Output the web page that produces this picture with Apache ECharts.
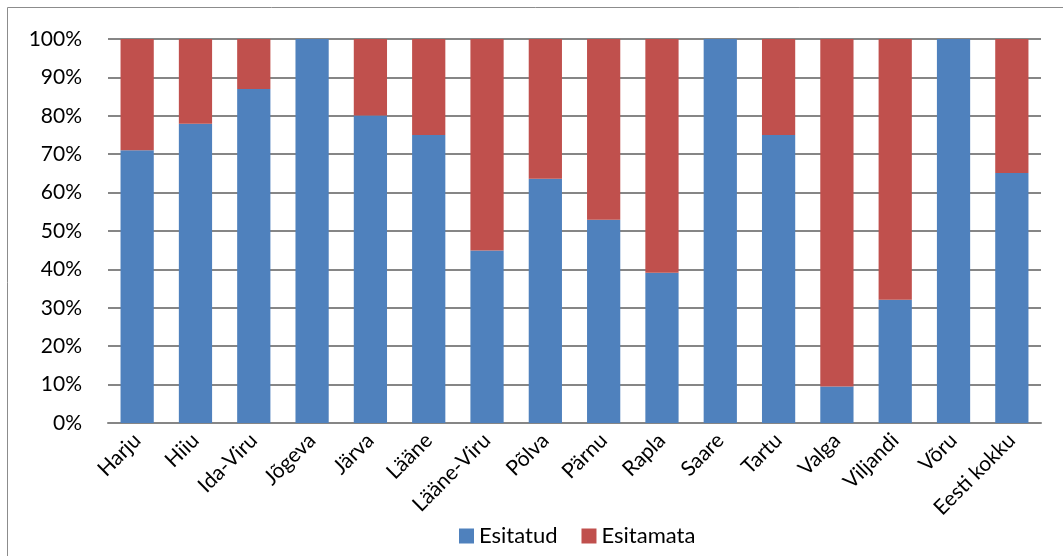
<!DOCTYPE html>
<html>
<head>
<meta charset="utf-8">
<script src="https://cdn.jsdelivr.net/npm/echarts@6/dist/echarts.min.js"></script>
<style>
  html, body { margin: 0; padding: 0; background: #fff; }
  #chart { width: 1063px; height: 556px; }
</style>
</head>
<body>
<div id="chart"></div>
<script>
var categories = ['Harju', 'Hiiu', 'Ida-Viru', 'Jõgeva', 'Järva', 'Lääne', 'Lääne-Viru', 'Põlva',
  'Pärnu', 'Rapla', 'Saare', 'Tartu', 'Valga', 'Viljandi', 'Võru', 'Eesti kokku'];
// osakaal protsentides
var esitatud = [71, 77.9, 87, 100, 80.1, 75, 44.9, 63.6, 52.9, 39.1, 100, 75, 9.5, 32.1, 100, 65.1];
var esitamata = [29, 22.1, 13, 0, 19.9, 25, 55.1, 36.4, 47.1, 60.9, 0, 25, 90.5, 67.9, 0, 34.9];
var yTicks = [0, 10, 20, 30, 40, 50, 60, 70, 80, 90, 100];

var font = 'Lato, "Open Sans", sans-serif';
var chart = echarts.init(document.getElementById('chart'));

chart.setOption({
  animation: false,
  textStyle: { fontFamily: font },
  graphic: [{
    type: 'rect',
    shape: { x: 7.5, y: 7.5, width: 1080, height: 580 },
    style: { fill: 'none', stroke: '#8c8c8c', lineWidth: 1 },
    silent: true
  }],
  grid: { left: 108, right: 22, top: 39, bottom: 133 },
  legend: {
    bottom: 4,
    left: 454,
    itemWidth: 15,
    itemHeight: 15,
    itemGap: 24,
    icon: 'rect',
    textStyle: { fontSize: 22, color: '#000', fontFamily: font },
    data: ['Esitatud', 'Esitamata']
  },
  xAxis: {
    type: 'category',
    data: categories,
    axisLine: { lineStyle: { color: '#868686', width: 2 } },
    axisTick: { show: false },
    axisLabel: {
      rotate: 45,
      interval: 0,
      fontSize: 21,
      color: '#000',
      margin: 14,
      fontFamily: font
    }
  },
  yAxis: {
    type: 'value',
    min: 0,
    max: 100,
    interval: 10,
    axisLine: { show: false },
    axisTick: { show: false },
    splitLine: { lineStyle: { color: '#868686', width: 2 } },
    axisLabel: {
      fontSize: 21,
      color: '#000',
      margin: 26,
      fontFamily: font,
      formatter: function (v) { return yTicks.indexOf(v) >= 0 ? v + '%' : ''; }
    }
  },
  series: [
    {
      name: 'Esitatud',
      type: 'bar',
      stack: 'total',
      barWidth: '57%',
      itemStyle: { color: '#4f81bd' },
      data: esitatud
    },
    {
      name: 'Esitamata',
      type: 'bar',
      stack: 'total',
      barWidth: '57%',
      itemStyle: { color: '#c0504d' },
      data: esitamata
    }
  ]
});
</script>
</body>
</html>
